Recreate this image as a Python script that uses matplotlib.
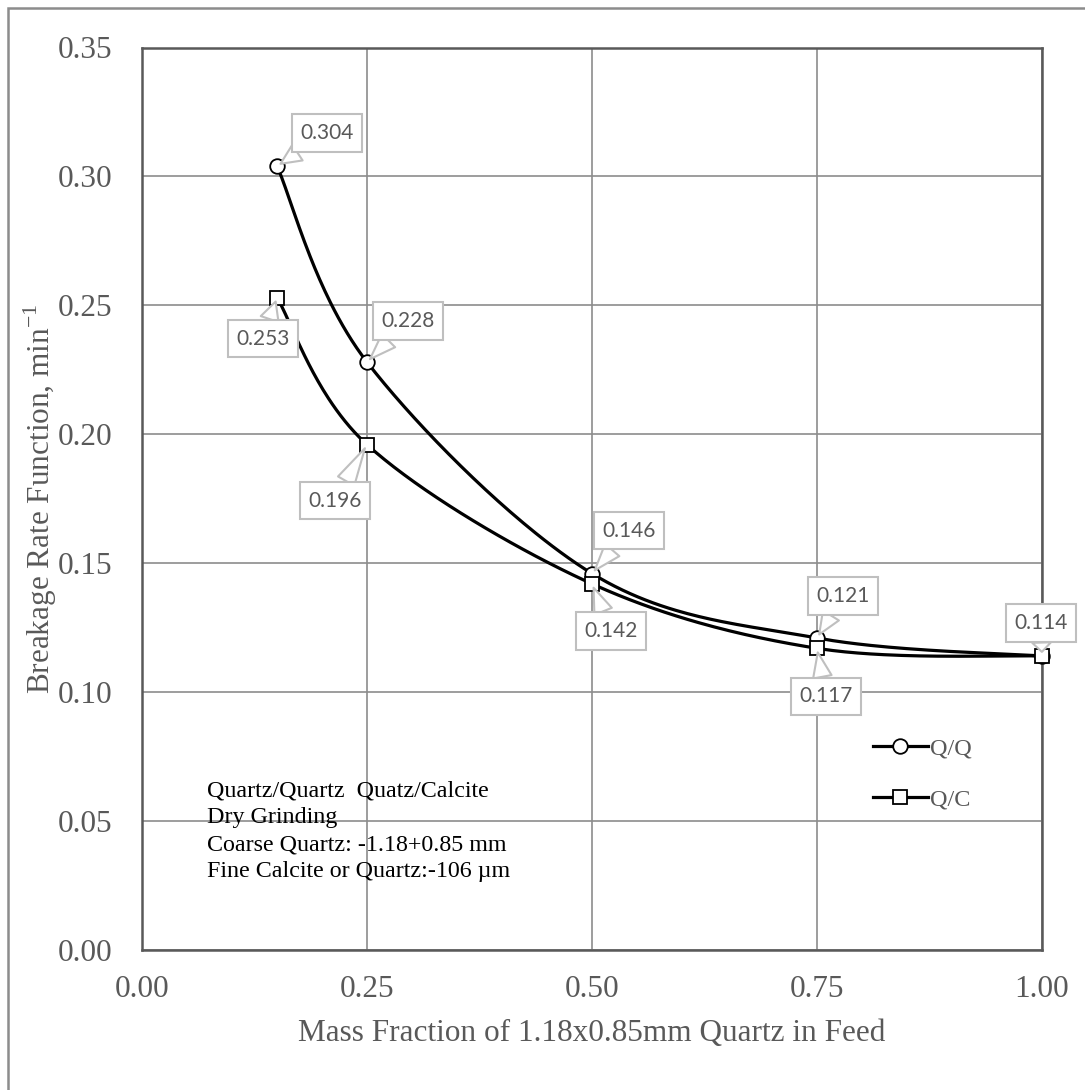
import numpy as np
import matplotlib
matplotlib.use("Agg")
import matplotlib.pyplot as plt
from matplotlib.patches import Rectangle

# Данные
mass_fraction = [0.15, 0.25, 0.50, 0.75, 1.00]
rate_qq = [0.304, 0.228, 0.146, 0.121, 0.114]
rate_qc = [0.253, 0.196, 0.142, 0.117, 0.114]
x_ticks = [0.00, 0.25, 0.50, 0.75, 1.00]
y_ticks = [0.00, 0.05, 0.10, 0.15, 0.20, 0.25, 0.30, 0.35]

# смещения подписей (пиксели) от точек
offsets_qq = [(50, 33), (41, 41), (37, 43), (26, 42), (-1, 33)]
offsets_qc = [(-14, -41), (-32, -56), (19, -47), (9, -48), None]

plt.rcParams['font.family'] = ['Liberation Serif', 'DejaVu Serif']
plt.rcParams['mathtext.fontset'] = 'custom'
plt.rcParams['mathtext.rm'] = 'Liberation Serif'

GRAY = '#595959'
W, H = 1085, 1090
L, R, T, B = 142, 1042, 47.5, 950


def smooth(xs, ys, sx, sy, n=60):
    # сглаживание как в Excel: Catmull-Rom через Безье, в пиксельных координатах
    p = np.column_stack([np.array(xs) * sx, np.array(ys) * sy])
    out = []
    for i in range(len(p) - 1):
        p0 = p[i - 1] if i > 0 else p[i]
        p1, p2 = p[i], p[i + 1]
        p3 = p[i + 2] if i + 2 < len(p) else p[i + 1]
        c1 = p1 + (p2 - p0) / 6.0
        c2 = p2 - (p3 - p1) / 6.0
        t = np.linspace(0, 1, n)[:, None]
        seg = ((1 - t) ** 3) * p1 + 3 * ((1 - t) ** 2) * t * c1 + 3 * (1 - t) * t ** 2 * c2 + t ** 3 * p2
        out.append(seg if i == 0 else seg[1:])
    out = np.vstack(out)
    return out[:, 0] / sx, out[:, 1] / sy


fig = plt.figure(figsize=(W / 100, H / 100), dpi=100)
ax = fig.add_axes([L / W, 1 - B / H, (R - L) / W, (B - T) / H])

sx, sy = (R - L) / 1.0, (B - T) / 0.35
for ys, marker, label, offs in [(rate_qq, 'o', 'Q/Q', offsets_qq),
                                (rate_qc, 's', 'Q/C', offsets_qc)]:
    ms = 10.5 if marker == 'o' else 9.5
    cx, cy = smooth(mass_fraction, ys, sx, sy)
    ax.plot(cx, cy, color='black', lw=2.3, zorder=3)
    ax.plot(mass_fraction, ys, linestyle='none', marker=marker, ms=ms,
            mfc='white', mec='black', mew=1.3, zorder=4, clip_on=False)
    # элемент легенды
    ax.plot([], [], color='black', lw=2.3, marker=marker, ms=ms,
            mfc='white', mec='black', mew=1.3, label=label)
    for x, y, off in zip(mass_fraction, ys, offs):
        if off is None:
            continue
        ax.annotate(f"{y:.3f}", xy=(x, y), xytext=off, textcoords='offset pixels',
                    ha='center', va='center', fontsize=15, family=['Lato', 'DejaVu Sans'],
                    color=GRAY, zorder=5, annotation_clip=False,
                    bbox=dict(boxstyle='square,pad=0.42', fc='white', ec='#bfbfbf', lw=1.5),
                    arrowprops=dict(arrowstyle='wedge,tail_width=0.9,shrink_factor=0.5',
                                    fc='white', ec='#bfbfbf', lw=1.5, shrinkA=0, shrinkB=3))

ax.set_xlim(0, 1.0)
ax.set_ylim(0, 0.35)
ax.set_xticks(x_ticks)
ax.set_yticks(y_ticks)
ax.set_xticklabels([f"{v:.2f}" for v in x_ticks])
ax.set_yticklabels([f"{v:.2f}" for v in y_ticks])
ax.tick_params(axis='both', length=0, labelsize=22.5, labelcolor=GRAY)
ax.tick_params(axis='y', pad=21)
ax.tick_params(axis='x', pad=18)
ax.grid(True, color='#8c8c8c', lw=1.2)
ax.set_axisbelow(True)
for s in ax.spines.values():
    s.set_color(GRAY)
    s.set_linewidth(1.8)

ax.set_xlabel("Mass Fraction of 1.18x0.85mm Quartz in Feed", fontsize=22.5, color=GRAY, va='center')
ax.xaxis.set_label_coords(0.5, (B - 1033) / (B - T))
ax.set_ylabel("Breakage Rate Function, min$^{-1}$", fontsize=22.5, color=GRAY, va='center')
ax.yaxis.set_label_coords((40 - L) / (R - L), 0.5)

ax.text((207 - L) / (R - L), (B - 780) / (B - T),
        "Quartz/Quartz  Quatz/Calcite\nDry Grinding\nCoarse Quartz: -1.18+0.85 mm\nFine Calcite or Quartz:-106 µm",
        transform=ax.transAxes, ha='left', va='top', fontsize=17.3, color='black',
        linespacing=1.38, zorder=6)

ax.legend(loc='upper left', bbox_to_anchor=(873 / W, 1 - 737 / H), bbox_transform=fig.transFigure,
          frameon=False, fontsize=17.5, labelcolor=GRAY, handlelength=2.25, handletextpad=0.1,
          labelspacing=1.2, borderpad=0, borderaxespad=0)

# рамка области диаграммы
fig.add_artist(Rectangle((7.5 / W, -0.5), 2.0, 1.5 - 7.5 / H, transform=fig.transFigure,
                         fill=False, ec='#8c8c8c', lw=1.8))

fig.savefig('out.png', dpi=100)
